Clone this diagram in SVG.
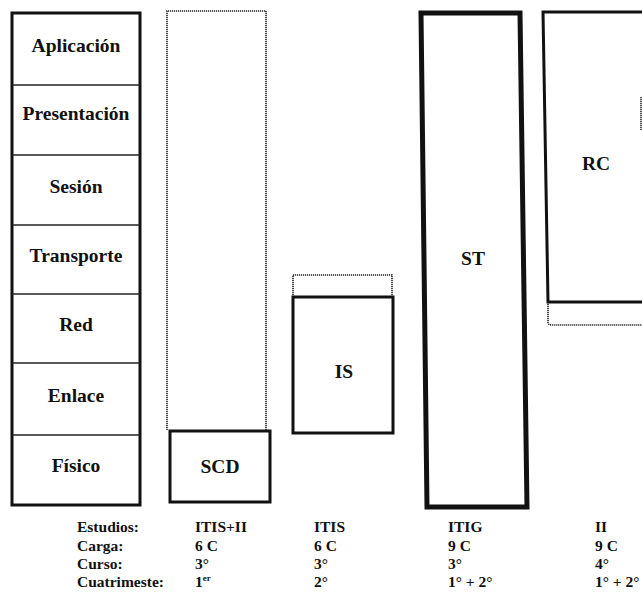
<svg xmlns="http://www.w3.org/2000/svg" width="642" height="595" viewBox="0 0 642 595">
<style>
.t{font-family:'Liberation Serif','Times New Roman','DejaVu Serif',serif;font-weight:700;fill:#111}
.lay{font-size:19.5px;text-anchor:middle}
.big{font-size:19.5px;text-anchor:middle}
.info{font-size:15.5px}
.solid{fill:none;stroke:#111;stroke-width:3}
.thick{fill:none;stroke:#111;stroke-width:5}
.div{stroke:#222;stroke-width:1.5}
.dot{fill:none;stroke:#222;stroke-width:1.6;stroke-dasharray:1.2 0.8}
</style>
<rect width="642" height="595" fill="#fff"/>
<g id="osi">
<rect x="12" y="13" width="128" height="492" class="solid"/>
<line x1="12" y1="85" x2="140" y2="85" class="div"/>
<line x1="12" y1="155" x2="140" y2="155" class="div"/>
<line x1="12" y1="225" x2="140" y2="225" class="div"/>
<line x1="12" y1="294" x2="140" y2="294" class="div"/>
<line x1="12" y1="363" x2="140" y2="363" class="div"/>
<line x1="12" y1="435" x2="140" y2="435" class="div"/>
<text class="t lay" x="76" y="52">Aplicación</text>
<text class="t lay" x="76" y="120">Presentación</text>
<text class="t lay" x="76" y="193">Sesión</text>
<text class="t lay" x="76" y="262">Transporte</text>
<text class="t lay" x="76" y="331">Red</text>
<text class="t lay" x="76" y="402">Enlace</text>
<text class="t lay" x="76" y="472">Físico</text>
</g>
<g id="scd">
<path d="M167,430 V11 H266 V430" class="dot"/>
<rect x="170" y="431" width="100" height="71" class="solid"/>
<text class="t big" x="220" y="473">SCD</text>
</g>
<g id="is">
<path d="M293,297 V275 H392 V297" class="dot"/>
<rect x="293" y="297" width="100" height="136" class="solid"/>
<text class="t big" x="344" y="378">IS</text>
</g>
<g id="st">
<path d="M421,13 H520 L527,507 H427 Z" class="thick"/>
<text class="t big" x="473" y="265">ST</text>
</g>
<g id="rc">
<path d="M645,12 H543 L548,302 H645" class="solid"/>
<path d="M548,302 V323 Q548,325 552,325 H642" class="dot"/>
<line x1="641" y1="97" x2="641" y2="130" class="dot"/>
<text class="t big" x="596" y="170">RC</text>
</g>
<g id="labels">
<text class="t info" x="77" y="532">Estudios:</text>
<text class="t info" x="77" y="551">Carga:</text>
<text class="t info" x="77" y="569">Curso:</text>
<text class="t info" x="77" y="587">Cuatrimeste:</text>
<text class="t info" x="195" y="532">ITIS+II</text>
<text class="t info" x="195" y="551">6 C</text>
<text class="t info" x="195" y="569">3°</text>
<text class="t info" x="195" y="587">1<tspan font-size="9" dy="-6">er</tspan></text>
<text class="t info" x="314" y="532">ITIS</text>
<text class="t info" x="314" y="551">6 C</text>
<text class="t info" x="314" y="569">3°</text>
<text class="t info" x="314" y="587">2°</text>
<text class="t info" x="448" y="532">ITIG</text>
<text class="t info" x="448" y="551">9 C</text>
<text class="t info" x="448" y="569">3°</text>
<text class="t info" x="448" y="587">1° + 2°</text>
<text class="t info" x="595" y="532">II</text>
<text class="t info" x="595" y="551">9 C</text>
<text class="t info" x="595" y="569">4°</text>
<text class="t info" x="595" y="587">1° + 2°</text>
</g>
</svg>
